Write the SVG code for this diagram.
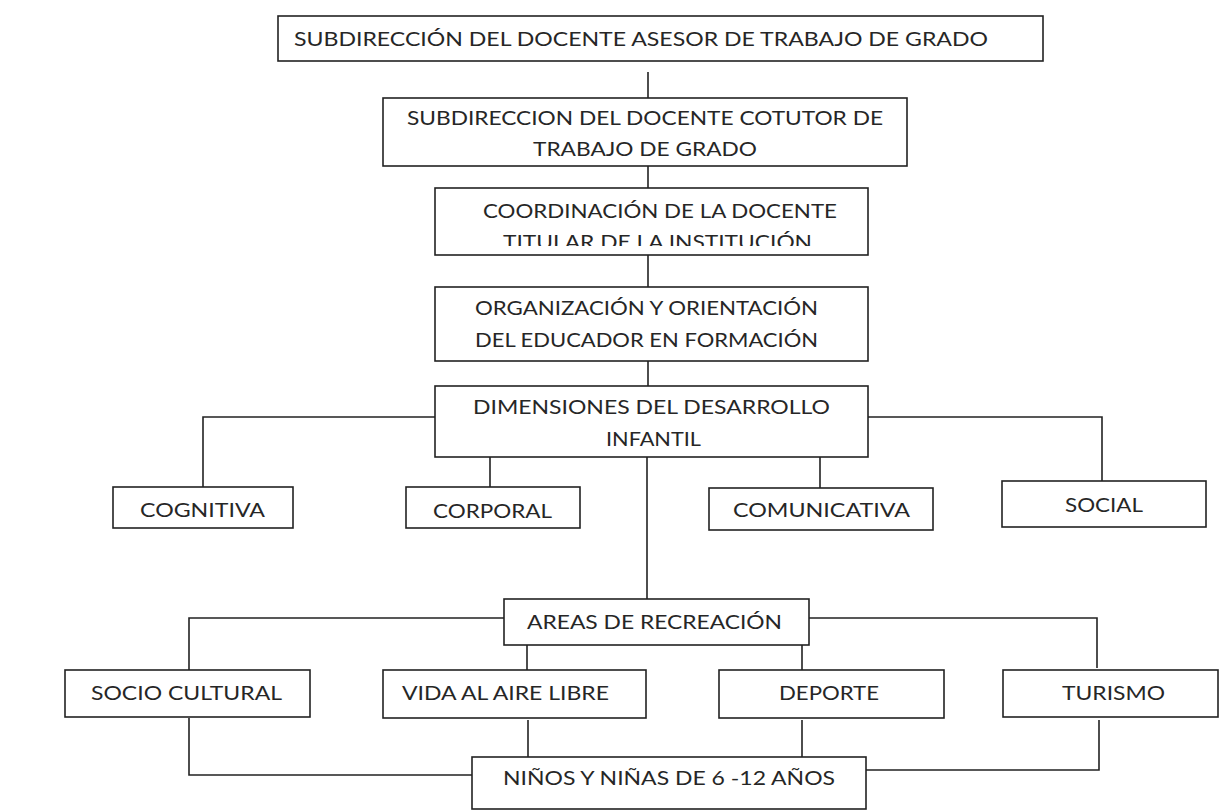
<svg xmlns="http://www.w3.org/2000/svg" width="1222" height="812" viewBox="0 0 1222 812">
<style>
.b{fill:#fff;stroke:#222;stroke-width:1.6}
.c{fill:none;stroke:#222;stroke-width:1.6}
text{font-family:Lato,"Open Sans","Liberation Sans",sans-serif;font-size:19.5px;fill:#262626}
</style>
<defs>
<clipPath id="clip3"><rect x="435" y="188" width="433" height="58"/></clipPath>
</defs>
<rect width="1222" height="812" fill="#fff"/>
<g id="connectors">
<path class="c" d="M648 72V98M648 166V188M648 255V287M648 361V386"/>
<path class="c" d="M435 417H203V487M868 417H1102V481M490 457V487M820 457V488M647 457V599"/>
<path class="c" d="M504 618H189V670M809 618H1097V668M527 645V670M802 645V670"/>
<path class="c" d="M189 718V775H472M528 720V757M802 720V757M1099 720V770H866"/>
</g>
<g id="n1"><rect class="b" x="278" y="16" width="765" height="45"/><text x="294" y="46" textLength="694" lengthAdjust="spacingAndGlyphs">SUBDIRECCIÓN DEL DOCENTE ASESOR DE TRABAJO DE GRADO</text></g>
<g id="n2"><rect class="b" x="383" y="98" width="524" height="68"/><text x="407" y="125" textLength="476" lengthAdjust="spacingAndGlyphs">SUBDIRECCION DEL DOCENTE COTUTOR DE</text><text x="533" y="156" textLength="224" lengthAdjust="spacingAndGlyphs">TRABAJO DE GRADO</text></g>
<g id="n3"><rect class="b" x="435" y="188" width="433" height="67"/><text x="483" y="218" textLength="354" lengthAdjust="spacingAndGlyphs">COORDINACIÓN DE LA DOCENTE</text><text x="503" y="249" textLength="309" lengthAdjust="spacingAndGlyphs" clip-path="url(#clip3)">TITULAR DE LA INSTITUCIÓN</text></g>
<g id="n4"><rect class="b" x="435" y="287" width="433" height="74"/><text x="475" y="315" textLength="343" lengthAdjust="spacingAndGlyphs">ORGANIZACIÓN Y ORIENTACIÓN</text><text x="475" y="347" textLength="343" lengthAdjust="spacingAndGlyphs">DEL EDUCADOR EN FORMACIÓN</text></g>
<g id="n5"><rect class="b" x="435" y="386" width="433" height="71"/><text x="473" y="414" textLength="357" lengthAdjust="spacingAndGlyphs">DIMENSIONES DEL DESARROLLO</text><text x="606" y="446" textLength="95" lengthAdjust="spacingAndGlyphs">INFANTIL</text></g>
<g id="n6"><rect class="b" x="113" y="487" width="180" height="41"/><text x="140" y="517" textLength="125" lengthAdjust="spacingAndGlyphs">COGNITIVA</text></g>
<g id="n7"><rect class="b" x="406" y="487" width="174" height="41"/><text x="433" y="518" textLength="119" lengthAdjust="spacingAndGlyphs">CORPORAL</text></g>
<g id="n8"><rect class="b" x="709" y="488" width="224" height="42"/><text x="733" y="517" textLength="177" lengthAdjust="spacingAndGlyphs">COMUNICATIVA</text></g>
<g id="n9"><rect class="b" x="1002" y="481" width="204" height="46"/><text x="1065" y="512" textLength="78" lengthAdjust="spacingAndGlyphs">SOCIAL</text></g>
<g id="n10"><rect class="b" x="504" y="599" width="305" height="46"/><text x="527" y="629" textLength="255" lengthAdjust="spacingAndGlyphs">AREAS DE RECREACIÓN</text></g>
<g id="n11"><rect class="b" x="65" y="670" width="245" height="47"/><text x="91" y="700" textLength="191" lengthAdjust="spacingAndGlyphs">SOCIO CULTURAL</text></g>
<g id="n12"><rect class="b" x="383" y="670" width="263" height="48"/><text x="402" y="700" textLength="207" lengthAdjust="spacingAndGlyphs">VIDA AL AIRE LIBRE</text></g>
<g id="n13"><rect class="b" x="719" y="670" width="225" height="48"/><text x="779" y="700" textLength="100" lengthAdjust="spacingAndGlyphs">DEPORTE</text></g>
<g id="n14"><rect class="b" x="1003" y="670" width="215" height="47"/><text x="1062" y="700" textLength="103" lengthAdjust="spacingAndGlyphs">TURISMO</text></g>
<g id="n15"><rect class="b" x="472" y="757" width="394" height="52"/><text x="503" y="785" textLength="332" lengthAdjust="spacingAndGlyphs">NIÑOS Y NIÑAS DE 6 -12 AÑOS</text></g>
</svg>
